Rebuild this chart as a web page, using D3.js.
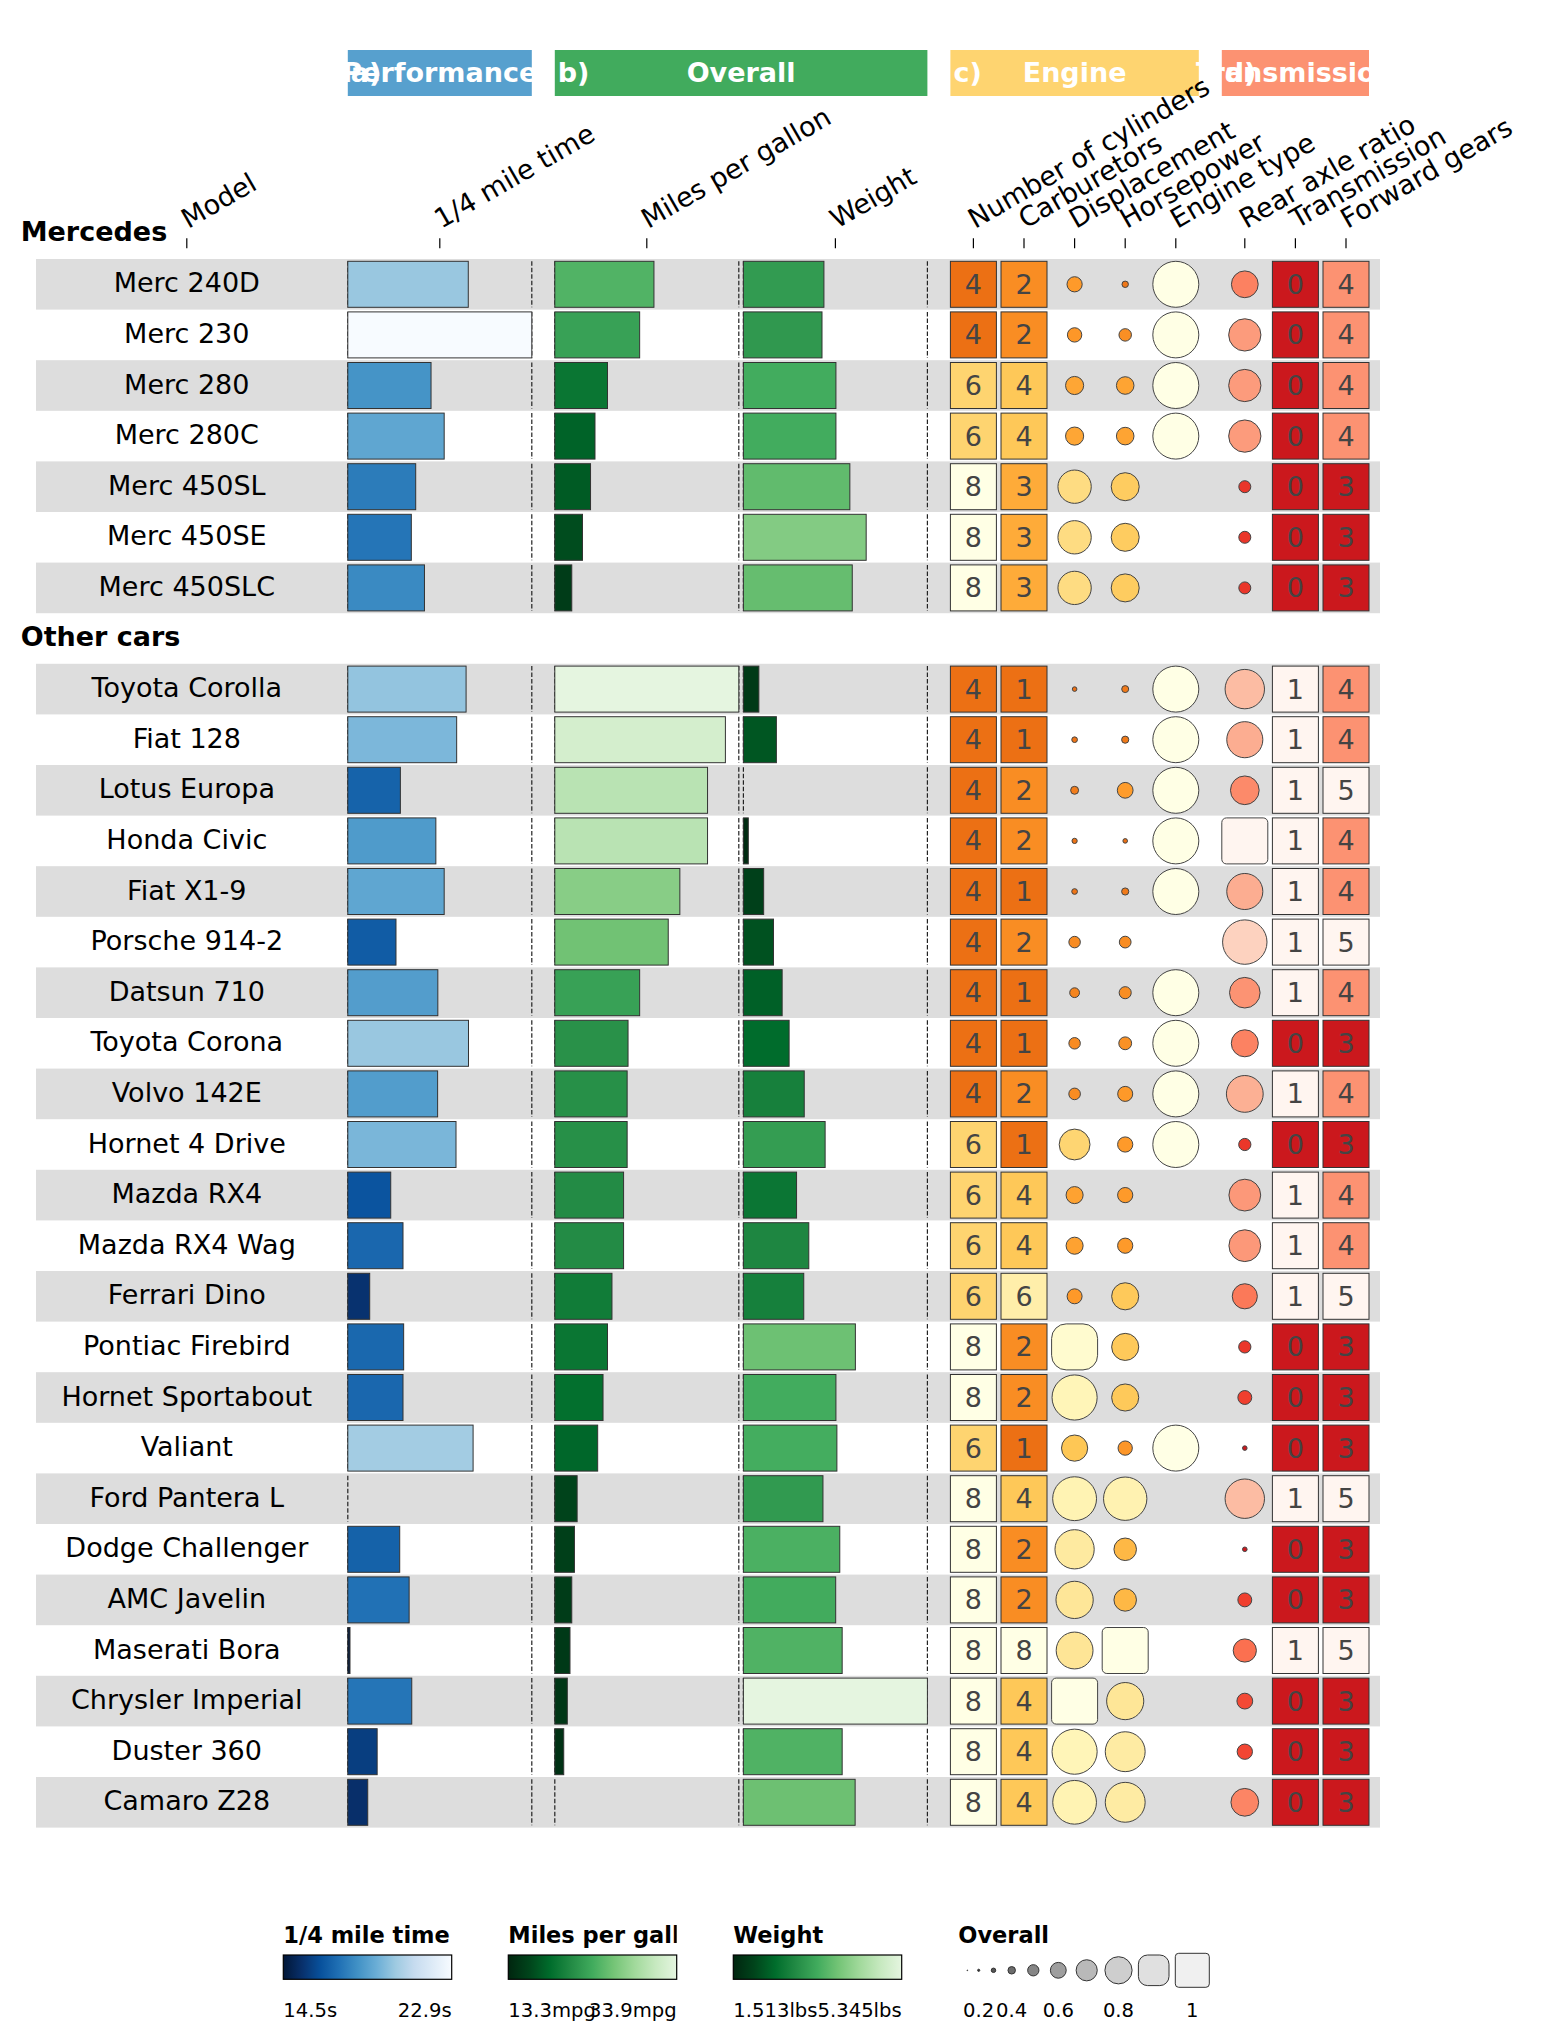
<!DOCTYPE html>
<html>
<head>
<meta charset="utf-8">
<script src="https://cdn.jsdelivr.net/npm/d3@7"></script>
<style>
  body { margin: 0; background: #fff; }
  svg { display: block; font-family: "DejaVu Sans", sans-serif; }
</style>
</head>
<body>
<div id="funkyheatmap"></div>
<script>
// mtcars, sorted by mpg within each group
const models = [
  "Merc 240D", "Merc 230", "Merc 280", "Merc 280C", "Merc 450SL", "Merc 450SE", "Merc 450SLC",
  "Toyota Corolla", "Fiat 128", "Lotus Europa", "Honda Civic", "Fiat X1-9", "Porsche 914-2",
  "Datsun 710", "Toyota Corona", "Volvo 142E", "Hornet 4 Drive", "Mazda RX4", "Mazda RX4 Wag",
  "Ferrari Dino", "Pontiac Firebird", "Hornet Sportabout", "Valiant", "Ford Pantera L",
  "Dodge Challenger", "AMC Javelin", "Maserati Bora", "Chrysler Imperial", "Duster 360", "Camaro Z28",
];
const rowGroups = [
  "Mercedes", "Mercedes", "Mercedes", "Mercedes", "Mercedes", "Mercedes", "Mercedes",
  "Other cars", "Other cars", "Other cars", "Other cars", "Other cars", "Other cars", "Other cars",
  "Other cars", "Other cars", "Other cars", "Other cars", "Other cars", "Other cars", "Other cars",
  "Other cars", "Other cars", "Other cars", "Other cars", "Other cars", "Other cars", "Other cars",
  "Other cars", "Other cars",
];
const qsec = [20.0, 22.9, 18.3, 18.9, 17.6, 17.4, 18.0, 19.9, 19.47, 16.9, 18.52, 18.9, 16.7, 18.61, 20.01,
  18.6, 19.44, 16.46, 17.02, 15.5, 17.05, 17.02, 20.22, 14.5, 16.87, 17.3, 14.6, 17.42, 15.84, 15.41];
const mpg = [24.4, 22.8, 19.2, 17.8, 17.3, 16.4, 15.2, 33.9, 32.4, 30.4, 30.4, 27.3, 26.0, 22.8, 21.5,
  21.4, 21.4, 21.0, 21.0, 19.7, 19.2, 18.7, 18.1, 15.8, 15.5, 15.2, 15.0, 14.7, 14.3, 13.3];
const wt = [3.19, 3.15, 3.44, 3.44, 3.73, 4.07, 3.78, 1.835, 2.2, 1.513, 1.615, 1.935, 2.14, 2.32, 2.465,
  2.78, 3.215, 2.62, 2.875, 2.77, 3.845, 3.44, 3.46, 3.17, 3.52, 3.435, 3.57, 5.345, 3.57, 3.84];
const cyl = [4, 4, 6, 6, 8, 8, 8, 4, 4, 4, 4, 4, 4, 4, 4, 4, 6, 6, 6, 6, 8, 8, 6, 8, 8, 8, 8, 8, 8, 8];
const carb = [2, 2, 4, 4, 3, 3, 3, 1, 1, 2, 2, 1, 2, 1, 1, 2, 1, 4, 4, 6, 2, 2, 1, 4, 2, 2, 8, 4, 4, 4];
const disp = [146.7, 140.8, 167.6, 167.6, 275.8, 275.8, 275.8, 71.1, 78.7, 95.1, 75.7, 79.0, 120.3, 108.0,
  120.1, 121.0, 258.0, 160.0, 160.0, 145.0, 400.0, 360.0, 225.0, 351.0, 318.0, 304.0, 301.0, 440.0, 360.0, 350.0];
const hp = [62, 95, 123, 123, 180, 180, 180, 65, 66, 113, 52, 66, 91, 93, 97, 109, 110, 110, 110, 175,
  175, 175, 105, 264, 150, 150, 335, 230, 245, 245];
const vs = [1, 1, 1, 1, 0, 0, 0, 1, 1, 1, 1, 1, 0, 1, 1, 1, 1, 0, 0, 0, 0, 0, 1, 0, 0, 0, 0, 0, 0, 0];
const drat = [3.69, 3.92, 3.92, 3.92, 3.07, 3.07, 3.07, 4.22, 4.08, 3.77, 4.93, 4.08, 4.43, 3.85, 3.7,
  4.11, 3.08, 3.9, 3.9, 3.62, 3.08, 3.15, 2.76, 4.22, 2.76, 3.15, 3.54, 3.23, 3.21, 3.73];
const am = [0, 0, 0, 0, 0, 0, 0, 1, 1, 1, 1, 1, 1, 1, 0, 1, 0, 1, 1, 1, 0, 0, 0, 1, 0, 0, 1, 0, 0, 0];
const gear = [4, 4, 4, 4, 3, 3, 3, 4, 4, 5, 4, 4, 5, 4, 3, 4, 3, 4, 4, 5, 3, 3, 3, 5, 3, 3, 5, 3, 3, 3];

const columnGroups = [
  { key: "performance", letter: "a)", name: "Performance", palette: "Blues" },
  { key: "overall", letter: "b)", name: "Overall", palette: "Greens" },
  { key: "engine", letter: "c)", name: "Engine", palette: "YlOrBr" },
  { key: "transmission", letter: "d)", name: "Transmission", palette: "Reds" },
];

const overallLegendValues = [0, 0.1, 0.2, 0.3, 0.4, 0.5, 0.6, 0.7, 0.8, 0.9, 1];
const overallLegendLabels = [0.2, 0.4, 0.6, 0.8, 1];

// palettes, dark -> light
const palettes = {
  Blues: ["#011636", "#08306b", "#08519c", "#2171b5", "#4292c6", "#6baed6", "#9ecae1", "#c6dbef", "#deebf7", "#f7fbff"],
  Greens: ["#00250f", "#00441b", "#006d2c", "#238b45", "#41ab5d", "#74c476", "#a1d99b", "#c7e9c0", "#e5f5e0"],
  YlOrBr: ["#ec7014", "#fe9929", "#fec44f", "#fee391", "#fff7bc", "#ffffe5"],
  Reds: ["#cb181d", "#ef3b2c", "#fb6a4a", "#fc9272", "#fcbba1", "#fee0d2", "#fff5f0"],
  Greys: ["#000000", "#252525", "#525252", "#737373", "#969696", "#bdbdbd", "#d9d9d9", "#f0f0f0"],
};

const columns = [
  { name: "1/4 mile time", values: qsec, geom: "bar", group: "performance" },
  { name: "Miles per gallon", values: mpg, geom: "bar", group: "overall" },
  { name: "Weight", values: wt, geom: "bar", group: "overall" },
  { name: "Number of cylinders", values: cyl, geom: "text", group: "engine" },
  { name: "Carburetors", values: carb, geom: "text", group: "engine" },
  { name: "Displacement", values: disp, geom: "funkyrect", group: "engine" },
  { name: "Horsepower", values: hp, geom: "funkyrect", group: "engine" },
  { name: "Engine type", values: vs, geom: "circle", group: "engine" },
  { name: "Rear axle ratio", values: drat, geom: "funkyrect", group: "transmission" },
  { name: "Transmission", values: am, geom: "text", group: "transmission" },
  { name: "Forward gears", values: gear, geom: "text", group: "transmission" },
];

const legendBars = [
  { title: "1/4 mile time", values: qsec, palette: "Blues", format: (v) => d3.format(".1f")(v) + "s" },
  { title: "Miles per gallon", values: mpg, palette: "Greens", format: (v) => d3.format(".1f")(v) + "mpg" },
  { title: "Weight", values: wt, palette: "Greens", format: (v) => d3.format(".3f")(v) + "lbs" },
];

/*
 * Builds a colour scale in [0, 1] that interpolates a palette linearly
 */
const makePalette = (name) => {
  const colors = palettes[name];
  return d3.scaleLinear()
    .domain(colors.map((c, i) => i / (colors.length - 1)))
    .range(colors)
    .clamp(true);
};

/*
 * Size of a funky rectangle: a circle below the midpoint, a rounded square above it
 */
const funkyShape = (value, size) => {
  const midpoint = 0.8;
  if (value < midpoint) {
    const r = size * (0.05 + (0.45 * value) / midpoint);
    return { w: 2 * r, rx: r };
  }
  const trans = ((value - midpoint) / (1 - midpoint)) / 2 + 0.5;
  return { w: size, rx: size * (0.9 - 0.8 * trans) };
};

const drawFunkyHeatmap = () => {
  // Settings
  const width = 1542;
  const height = 2043;
  const U = 46;
  const rowPitch = 1.1 * U;
  const firstRowY = 284.3;
  const bgLeft = 36;
  const bgRight = 1380;
  const labelFont = 27;
  const headFont = 27;

  const x = d3.scaleLinear().domain([0, 1]).range([347.8, 347.8 + U]);
  const y = d3.scaleLinear().domain([1, 2]).range([firstRowY, firstRowY + rowPitch]);

  // column positions, in cell units
  let pos = 0;
  let prevGroup = null;
  columns.forEach((c) => {
    if (prevGroup !== null && c.group !== prevGroup) pos += 0.4;
    c.start = pos;
    c.width = c.geom === "bar" ? 4 : 1;
    c.center = pos + c.width / 2;
    c.scale = d3.scaleLinear().domain(d3.extent(c.values)).range([0, 1]);
    c.color = makePalette(columnGroups.find((g) => g.key === c.group).palette);
    pos += c.width + 0.1;
    prevGroup = c.group;
  });
  const modelCenter = -3.5;

  // row slots: a header slot before every group
  const rows = [];
  const headers = [];
  let slot = 0;
  let inGroup = 0;
  models.forEach((m, i) => {
    if (i === 0 || rowGroups[i] !== rowGroups[i - 1]) {
      headers.push({ name: rowGroups[i], slot: slot });
      slot++;
      inGroup = 0;
    }
    rows.push({ index: i, slot: slot, shade: inGroup % 2 === 0 });
    slot++;
    inGroup++;
  });

  const svg = d3.select("#funkyheatmap")
    .append("svg")
    .attr("width", width)
    .attr("height", height);

  // Row backgrounds
  svg.append("g")
    .selectAll("rect")
    .data(rows.filter((r) => r.shade))
    .join("rect")
    .attr("x", bgLeft)
    .attr("y", (r) => y(r.slot) - rowPitch / 2)
    .attr("width", bgRight - bgLeft)
    .attr("height", rowPitch)
    .attr("fill", "#dddddd");

  // Column group headers
  const gHead = svg.append("g");
  columnGroups.forEach((g) => {
    const cols = columns.filter((c) => c.group === g.key);
    const x1 = x(d3.min(cols, (c) => c.start));
    const x2 = x(d3.max(cols, (c) => c.start + c.width));
    gHead.append("rect")
      .attr("x", x1)
      .attr("y", 50)
      .attr("width", x2 - x1)
      .attr("height", U)
      .attr("fill", makePalette(g.palette)(0.5));
    gHead.append("text")
      .attr("x", (x1 + x2) / 2)
      .attr("y", 50 + U / 2 + 9)
      .attr("text-anchor", "middle")
      .style("font-size", headFont + "px")
      .style("font-weight", "bold")
      .attr("fill", "#fff")
      .text(g.name);
    gHead.append("text")
      .attr("x", x1 + 3)
      .attr("y", 50 + U / 2 + 9)
      .style("font-size", headFont + "px")
      .style("font-weight", "bold")
      .attr("fill", "#fff")
      .text(g.letter);
  });

  // Column labels and ticks
  const headerCols = [{ name: "Model", center: modelCenter }].concat(columns);
  const gLab = svg.append("g");
  gLab.selectAll("line")
    .data(headerCols)
    .join("line")
    .attr("x1", (c) => x(c.center))
    .attr("x2", (c) => x(c.center))
    .attr("y1", 238.3)
    .attr("y2", 248.3)
    .attr("stroke", "#000")
    .attr("stroke-width", 1.2);
  gLab.selectAll("text")
    .data(headerCols)
    .join("text")
    .attr("transform", (c) => "translate(" + (x(c.center) + 1.5) + ",229) rotate(-30)")
    .style("font-size", labelFont + "px")
    .text((c) => c.name);

  // Row group labels
  svg.append("g")
    .selectAll("text")
    .data(headers)
    .join("text")
    .attr("x", 20.7)
    .attr("y", (h) => y(h.slot) + 7.5)
    .style("font-size", "27px")
    .style("font-weight", "bold")
    .text((h) => h.name);

  // Model names
  svg.append("g")
    .selectAll("text")
    .data(rows)
    .join("text")
    .attr("x", x(modelCenter))
    .attr("y", (r) => y(r.slot) + 8)
    .attr("text-anchor", "middle")
    .style("font-size", labelFont + "px")
    .text((r) => models[r.index]);

  // Cells
  const gCells = svg.append("g");
  columns.forEach((c) => {
    rows.forEach((r) => {
      const raw = c.values[r.index];
      const v = c.scale(raw);
      const cy = y(r.slot);
      const cx = x(c.center);
      const fill = c.color(v);

      if (c.geom === "bar") {
        [c.start, c.start + c.width].forEach((edge) => {
          gCells.append("line")
            .attr("x1", x(edge))
            .attr("x2", x(edge))
            .attr("y1", cy - U / 2)
            .attr("y2", cy + U / 2)
            .attr("stroke", "#222")
            .attr("stroke-width", 1.2)
            .attr("stroke-dasharray", "4.5,2");
        });
        if (v > 0) {
          gCells.append("rect")
            .attr("x", x(c.start))
            .attr("y", cy - U / 2)
            .attr("width", x(c.start + c.width * v) - x(c.start))
            .attr("height", U)
            .attr("fill", fill)
            .attr("stroke", "#333")
            .attr("stroke-width", 1);
        }
      } else if (c.geom === "text") {
        gCells.append("rect")
          .attr("x", cx - U / 2)
          .attr("y", cy - U / 2)
          .attr("width", U)
          .attr("height", U)
          .attr("fill", fill)
          .attr("stroke", "#333")
          .attr("stroke-width", 1);
        gCells.append("text")
          .attr("x", cx)
          .attr("y", cy + 9.5)
          .attr("text-anchor", "middle")
          .style("font-size", "27px")
          .attr("fill", "#444")
          .text(raw);
      } else if (c.geom === "funkyrect") {
        const s = funkyShape(v, U);
        gCells.append("rect")
          .attr("x", cx - s.w / 2)
          .attr("y", cy - s.w / 2)
          .attr("width", s.w)
          .attr("height", s.w)
          .attr("rx", s.rx)
          .attr("ry", s.rx)
          .attr("fill", fill)
          .attr("stroke", "#444")
          .attr("stroke-width", 1);
      } else if (c.geom === "circle" && v > 0) {
        gCells.append("circle")
          .attr("cx", cx)
          .attr("cy", cy)
          .attr("r", (U / 2) * v)
          .attr("fill", fill)
          .attr("stroke", "#444")
          .attr("stroke-width", 1);
      }
    });
  });

  // Legend
  const legendX = d3.scaleLinear().domain([0, 1]).range([283.3, 508.3]);
  const titleY = 1943.3;
  const barY = 1955;
  const barW = 168.4;
  const barH = 24.3;
  const labelY = 2017.3;
  const defs = svg.append("defs");
  const gLeg = svg.append("g");

  legendBars.forEach((l, i) => {
    const lx = legendX(i);
    const colors = palettes[l.palette];
    const grad = defs.append("linearGradient").attr("id", "grad" + i);
    grad.selectAll("stop")
      .data(colors)
      .join("stop")
      .attr("offset", (c, k) => k / (colors.length - 1))
      .attr("stop-color", (c) => c);
    defs.append("clipPath")
      .attr("id", "clip" + i)
      .append("rect")
      .attr("x", lx)
      .attr("y", titleY - 30)
      .attr("width", barW)
      .attr("height", 40);

    gLeg.append("text")
      .attr("x", lx)
      .attr("y", titleY)
      .attr("clip-path", "url(#clip" + i + ")")
      .style("font-size", "22.5px")
      .style("font-weight", "bold")
      .text(l.title);
    gLeg.append("rect")
      .attr("x", lx)
      .attr("y", barY)
      .attr("width", barW)
      .attr("height", barH)
      .attr("fill", "url(#grad" + i + ")")
      .attr("stroke", "#000")
      .attr("stroke-width", 1.2);
    const ext = d3.extent(l.values);
    gLeg.append("text")
      .attr("x", lx)
      .attr("y", labelY)
      .style("font-size", "19.6px")
      .text(l.format(ext[0]));
    gLeg.append("text")
      .attr("x", lx + barW)
      .attr("y", labelY)
      .attr("text-anchor", "end")
      .style("font-size", "19.6px")
      .text(l.format(ext[1]));
  });

  // Overall legend: funky rectangles that grow with the value
  const ox = legendX(3);
  gLeg.append("text")
    .attr("x", ox)
    .attr("y", titleY)
    .style("font-size", "22.5px")
    .style("font-weight", "bold")
    .text("Overall");

  const cellSize = d3.scaleLinear().domain([0, 1]).range([0, 34]);
  const grey = makePalette("Greys");
  const gap = 6.3;
  let cursor = ox + 1;
  const items = overallLegendValues.map((v, i) => {
    const s = cellSize(v);
    if (i > 0) cursor += gap;
    const item = { v: v, cx: cursor + s / 2, size: s };
    cursor += s;
    return item;
  });
  const legendCy = 1970.3;
  items.filter((it) => it.v > 0).forEach((it) => {
    const s = funkyShape(it.v, it.size);
    gLeg.append("rect")
      .attr("x", it.cx - s.w / 2)
      .attr("y", legendCy - s.w / 2)
      .attr("width", s.w)
      .attr("height", s.w)
      .attr("rx", s.rx)
      .attr("ry", s.rx)
      .attr("fill", grey(it.v))
      .attr("stroke", "#333")
      .attr("stroke-width", 1);
  });
  gLeg.selectAll(".overall-label")
    .data(overallLegendLabels)
    .join("text")
    .attr("class", "overall-label")
    .attr("x", (v) => items.find((it) => Math.abs(it.v - v) < 1e-9).cx)
    .attr("y", labelY)
    .attr("text-anchor", "middle")
    .style("font-size", "19.6px")
    .text((v) => v);
};

drawFunkyHeatmap();
</script>
</body>
</html>
